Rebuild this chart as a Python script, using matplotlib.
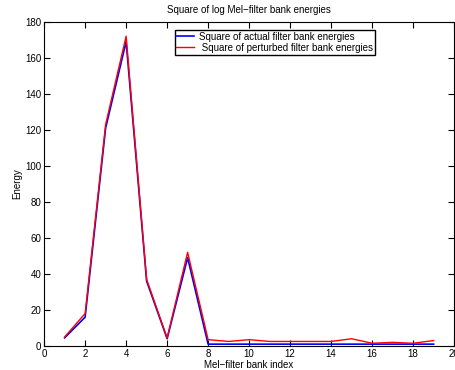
import matplotlib
matplotlib.use("Agg")
import matplotlib.pyplot as plt

plt.rcParams['font.family'] = ['Liberation Sans', 'DejaVu Sans']

bank_index = [1, 2, 3, 4, 5, 6, 7, 8, 9, 10, 11, 12, 13, 14, 15, 16, 17, 18, 19]
actual = [4.5, 16, 121, 169, 36, 4, 49, 1, 1, 1, 1, 1, 1, 1, 1, 1, 1, 1, 1]
perturbed = [5, 18, 123, 172, 37, 4.5, 52, 3.5, 2.5, 3.5, 2.5, 2.5, 2.5, 2.5, 4,
             1.5, 2, 1.5, 3]

fig = plt.figure(figsize=(4.55, 3.70), dpi=100)
ax = fig.add_axes([0.097, 0.065, 0.901, 0.876])

ax.plot(bank_index, actual, color='blue', lw=1.2, label='Square of actual filter bank energies')
ax.plot(bank_index, perturbed, color='red', lw=1.0, label=' Square of perturbed filter bank energies')

ax.set_xlim(0, 20)
ax.set_ylim(0, 180)
ax.set_xticks(range(0, 21, 2))
ax.set_yticks(range(0, 181, 20))
ax.tick_params(direction='in', top=True, right=True, labelsize=7, length=4, pad=2)
ax.set_xlabel('Mel\u2212filter bank index', fontsize=7, labelpad=1)
ax.set_ylabel('Energy', fontsize=7, labelpad=2)
ax.set_title('Square of log Mel\u2212filter bank energies', fontsize=7, pad=6)

leg = ax.legend(loc='upper left', bbox_to_anchor=(0.318, 0.975), fontsize=7,
                fancybox=False, framealpha=1, edgecolor='black', handlelength=1.8,
                borderpad=0.2, labelspacing=0.1, handletextpad=0.5, borderaxespad=0)
leg.get_frame().set_linewidth(1.0)

fig.savefig('out.png', dpi=100)
